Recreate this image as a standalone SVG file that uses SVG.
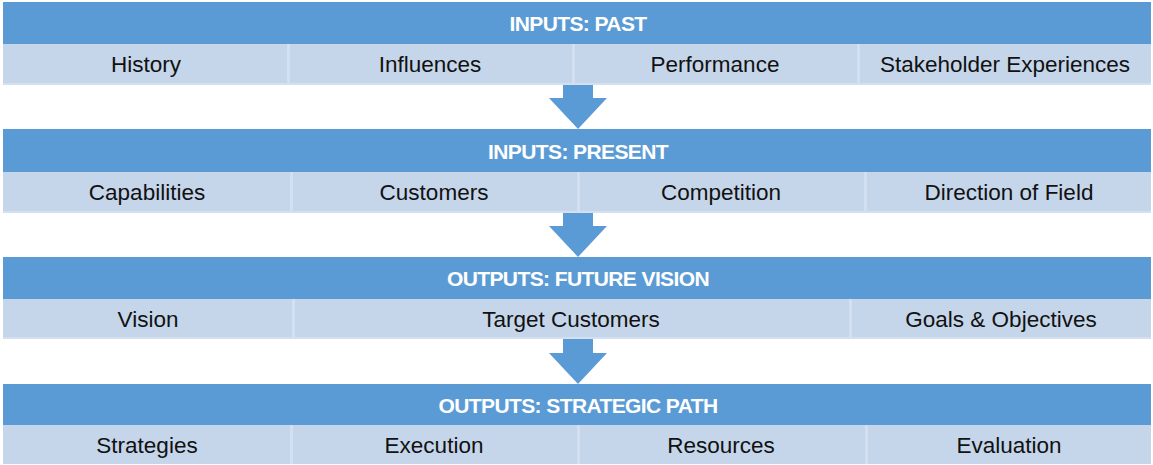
<svg xmlns="http://www.w3.org/2000/svg" width="1153" height="465" viewBox="0 0 1153 465">
<style>
.hd{fill:#5B9BD5}
.cell{fill:#C5D6EB}
.dv{fill:#D3E0F1}
.ht{font-family:"Liberation Sans",Arial,sans-serif;font-size:21px;font-weight:bold;fill:#fff;text-anchor:middle;letter-spacing:-0.6px}
.ct{font-family:"Liberation Sans",Arial,sans-serif;font-size:22.5px;fill:#111;text-anchor:middle}
.ar{fill:#5B9BD5}
</style>
<rect width="1153" height="465" fill="#fff"/>
<g id="past">
<rect class="hd" x="3" y="2" width="1148" height="42"/>
<text class="ht" x="578" y="31">INPUTS: PAST</text>
<rect class="cell" x="3" y="44" width="1148" height="40"/>
<rect class="dv" x="3" y="83" width="1148" height="2"/>
<rect class="dv" x="287" y="44" width="3" height="40"/>
<rect class="dv" x="572" y="44" width="3" height="40"/>
<rect class="dv" x="857" y="44" width="3" height="40"/>
<text class="ct" x="146" y="72">History</text>
<text class="ct" x="430" y="72">Influences</text>
<text class="ct" x="715" y="72">Performance</text>
<text class="ct" x="1005" y="72">Stakeholder Experiences</text>
</g>
<g id="present">
<rect class="hd" x="3" y="129" width="1148" height="43"/>
<text class="ht" x="578" y="159">INPUTS: PRESENT</text>
<rect class="cell" x="3" y="172" width="1148" height="40"/>
<rect class="dv" x="3" y="211" width="1148" height="2"/>
<rect class="dv" x="290" y="172" width="3" height="40"/>
<rect class="dv" x="577" y="172" width="3" height="40"/>
<rect class="dv" x="864" y="172" width="3" height="40"/>
<text class="ct" x="147" y="200">Capabilities</text>
<text class="ct" x="434" y="200">Customers</text>
<text class="ct" x="721" y="200">Competition</text>
<text class="ct" x="1009" y="200">Direction of Field</text>
</g>
<g id="future">
<rect class="hd" x="3" y="257" width="1148" height="42"/>
<text class="ht" x="578" y="286">OUTPUTS: FUTURE VISION</text>
<rect class="cell" x="3" y="299" width="1148" height="39"/>
<rect class="dv" x="3" y="337" width="1148" height="2"/>
<rect class="dv" x="292" y="299" width="3" height="39"/>
<rect class="dv" x="849" y="299" width="3" height="39"/>
<text class="ct" x="148" y="327">Vision</text>
<text class="ct" x="571" y="327">Target Customers</text>
<text class="ct" x="1001" y="327">Goals &amp; Objectives</text>
</g>
<g id="path">
<rect class="hd" x="3" y="384" width="1148" height="41"/>
<text class="ht" x="578" y="413">OUTPUTS: STRATEGIC PATH</text>
<rect class="cell" x="3" y="425" width="1148" height="39"/>
<rect class="dv" x="290" y="425" width="3" height="39"/>
<rect class="dv" x="577" y="425" width="3" height="39"/>
<rect class="dv" x="865" y="425" width="3" height="39"/>
<text class="ct" x="147" y="453">Strategies</text>
<text class="ct" x="434" y="453">Execution</text>
<text class="ct" x="721" y="453">Resources</text>
<text class="ct" x="1009" y="453">Evaluation</text>
</g>
<g id="connectors">
<polygon class="ar" points="563,85 593,85 593,98 607,98 578,129 549,98 563,98"/>
<polygon class="ar" points="563,213 593,213 593,226 607,226 578,257 549,226 563,226"/>
<polygon class="ar" points="563,339 593,339 593,353 607,353 578,384 549,353 563,353"/>
</g>
</svg>
